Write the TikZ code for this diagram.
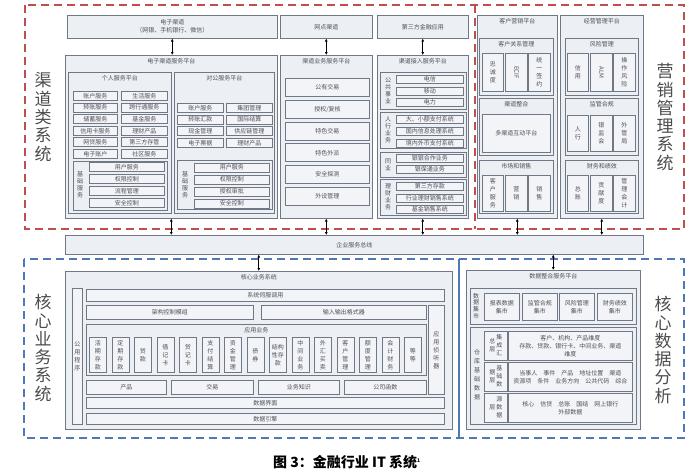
\documentclass[tikz,border=0pt]{standalone}
\usepackage{fontspec}
\setmainfont{Noto Sans CJK SC}
\usetikzlibrary{arrows.meta}

\definecolor{boxfill}{RGB}{236,239,244}
\definecolor{itemfill}{RGB}{242,244,248}
\definecolor{boxline}{RGB}{112,120,134}
\definecolor{redline}{RGB}{192,78,76}
\definecolor{blueline}{RGB}{79,120,182}
\definecolor{txt}{RGB}{78,80,88}

\newcommand{\vtxt}[1]{\begin{tabular}{@{}c@{}}#1\end{tabular}}

\tikzset{sz/.style 2 args={minimum width=#1pt,minimum height=#2pt}}
\tikzstyle{panel}=[draw=boxline,fill=boxfill,line width=0.5pt,anchor=north west,inner sep=0pt,text=txt]
\tikzstyle{item}=[draw=boxline,fill=itemfill,line width=0.9pt,anchor=north west,inner sep=0pt,align=center,text=txt]
\tikzstyle{lab}=[draw=boxline,fill=itemfill,line width=0.9pt,anchor=north west,inner sep=0pt,text=txt]
\tikzstyle{ttl}=[anchor=north,inner sep=0pt,yshift=-3.5pt,text=txt]
\tikzstyle{vtext}=[align=center,inner sep=0pt,text=txt]
\tikzstyle{biglabel}=[font=\fontsize{17}{18.3}\selectfont,align=center,text=black!70]
\tikzstyle{reddash}=[draw=redline,line width=1.3pt,dash pattern=on 8pt off 5pt]
\tikzstyle{bluedash}=[draw=blueline,line width=1.3pt,dash pattern=on 8pt off 5pt]
\tikzstyle{link}=[{Latex[length=3pt,width=3pt]}-{Latex[length=3pt,width=3pt]},line width=0.8pt]

\begin{document}
\begin{tikzpicture}[x=1pt,y=-1pt,font=\fontsize{6}{8}\selectfont,inner sep=0pt]
\useasboundingbox (0,0) rectangle (691,475);
% regions
\draw[reddash] (25,5) rectangle (684,229);
\draw[reddash] (475,5) -- (475,229);
\draw[bluedash] (24,259) rectangle (684,438);
\draw[blueline,line width=1.2pt] (459,259) -- (459,438);

\node[biglabel] (qdxt) at (43,117) {渠\\道\\类\\系\\统};
\node[biglabel] (yxxt) at (665,117) {营\\销\\管\\理\\系\\统};
\node[biglabel] (hxxt) at (43,348) {核\\心\\业\\务\\系\\统};
\node[biglabel] (sjfx) at (663,350) {核\\心\\数\\据\\分\\析};

% channels
\node[panel,sz={210}{23},align=center] (ech) at (67,15) {电子渠道\\（网银、手机银行、微信）};
\node[panel,sz={92}{23}] (wd) at (280,15) {网点渠道};
\node[panel,sz={91}{23}] (dsf) at (377,15) {第三方金融应用};

% e-channel platform
\node[panel,sz={212}{163},label={[ttl]north:电子渠道服务平台}] (ep) at (65,55) {};
\node[panel,sz={103}{141},label={[ttl]north:个人服务平台}] (grp) at (68,72) {};
\foreach \a/\b [count=\i from 0] in {账户服务/生活服务,转账服务/跨行通服务,储蓄服务/基金服务,信用卡服务/理财产品,网贷服务/第三方存管,电子账户/社区服务}{
  \node[item,sz={44}{9}] (gl\i) at (73,{91+11.6*\i}) {\a};
  \node[item,sz={46}{9}] (gr\i) at (121,{91+11.6*\i}) {\b};
}
\node[panel,sz={94}{49}] (jc1) at (73,161) {};
\node[vtext,font=\fontsize{6}{7}\selectfont] (jc1t) at (80,185) {基\\础\\服\\务};
\foreach \t [count=\i from 0] in {用户服务,权限控制,流程管理,安全控制}
  \node[item,sz={75}{9}] (ja\i) at (89,{162+12*\i}) {\t};

\node[panel,sz={100}{141},label={[ttl]north:对公服务平台}] (dg) at (174,72) {};
\foreach \a/\b [count=\i from 0] in {账户服务/集团管理,转账汇款/国际结算,现金管理/供应链管理,电子票据/理财产品}{
  \node[item,sz={46}{9}] (dl\i) at (177,{103+11.7*\i}) {\a};
  \node[item,sz={46}{9}] (dr\i) at (226,{103+11.7*\i}) {\b};
}
\node[panel,sz={95}{49}] (jc2) at (177,160) {};
\node[vtext,font=\fontsize{6}{7}\selectfont] (jc2t) at (185,185) {基\\础\\服\\务};
\foreach \t [count=\i from 0] in {用户服务,权限控制,授权审批,安全控制}
  \node[item,sz={75}{9}] (jb\i) at (194,{162.5+12*\i}) {\t};

% channel business platform
\node[panel,sz={92}{163},label={[ttl]north:渠道业务服务平台}] (yw) at (280,55) {};
\foreach \t [count=\i from 0] in {公有交易,{授权/复核},特色交易,特色外派,安全探测,外设管理}
  \node[item,sz={84}{18}] (yi\i) at (285,{78+21.8*\i}) {\t};

% channel access platform
\node[panel,sz={91}{163},label={[ttl]north:渠道接入服务平台}] (jr) at (377,55) {};
\node[panel,sz={86}{37}] (g1) at (380,72) {};
\node[vtext,font=\fontsize{6}{7}\selectfont] (g1t) at (388,90.5) {公\\共\\事\\业};
\node[item,sz={67}{8}] (g1a) at (396,75) {电信};
\node[item,sz={67}{8}] (g1b) at (396,87) {移动};
\node[item,sz={67}{8}] (g1c) at (396,98) {电力};
\node[panel,sz={86}{36}] (g2) at (380,112) {};
\node[vtext,font=\fontsize{6}{7}\selectfont] (g2t) at (388,130) {人\\行\\业\\务};
\node[item,sz={67}{8}] (g2a) at (396,115) {大、小额支付系统};
\node[item,sz={67}{8}] (g2b) at (396,127) {国内信息处理系统};
\node[item,sz={67}{8}] (g2c) at (396,138.5) {境内外币支付系统};
\node[panel,sz={86}{25}] (g3) at (380,152) {};
\node[vtext,font=\fontsize{6}{7}\selectfont] (g3t) at (388,164.5) {同\\业};
\node[item,sz={67}{8}] (g3a) at (396,153.5) {银银合作业务};
\node[item,sz={67}{8}] (g3b) at (396,165) {银保通业务};
\node[panel,sz={86}{36}] (g4) at (380,179) {};
\node[vtext,font=\fontsize{6}{7}\selectfont] (g4t) at (388,197) {理\\财\\业\\务};
\node[item,sz={67}{8}] (g4a) at (396,182) {第三方存款};
\node[item,sz={67}{8}] (g4b) at (396,193.5) {行业理财销售系统};
\node[item,sz={67}{8}] (g4c) at (396,205) {基金销售系统};

% marketing
\node[panel,sz={80}{203},label={[ttl]north:客户营销平台}] (kh) at (477,15) {};
\node[panel,sz={74}{57},label={[ttl]north:客户关系管理}] (crm) at (479,38) {};
\node[item,sz={21}{38}] (crma) at (482,53) {忠\\诚\\度};
\node[item,sz={22}{38}] (crmb) at (505,53) {\rotatebox{-90}{ECIF}};
\node[item,sz={22}{38}] (crmc) at (528,53) {统\\一\\签\\约};
\node[panel,sz={74}{57},label={[ttl]north:渠道整合}] (qd) at (479,98) {};
\node[item,sz={68}{38}] (qda) at (482,114) {多渠道互动平台};
\node[panel,sz={74}{53},label={[ttl]north:市场和销售}] (sc) at (479,160) {};
\node[item,sz={21}{36}] (sca) at (482,175) {客\\户\\服\\务};
\node[item,sz={22}{36}] (scb) at (505,175) {营\\销};
\node[item,sz={22}{36}] (scc) at (528,175) {销\\售};

\node[panel,sz={83}{203},label={[ttl]north:经营管理平台}] (jy) at (560,15) {};
\node[panel,sz={73}{57},label={[ttl]north:风险管理}] (fx) at (565,38) {};
\node[item,sz={21}{38}] (fxa) at (567,53) {信\\用};
\node[item,sz={22}{38}] (fxb) at (590,53) {\rotatebox{-90}{ALM}};
\node[item,sz={22}{38}] (fxc) at (613,53) {操\\作\\风\\险};
\node[panel,sz={73}{57},label={[ttl]north:监管合规}] (jg) at (565,98) {};
\node[item,sz={21}{36}] (jga) at (567,115) {人\\行};
\node[item,sz={22}{36}] (jgb) at (590,115) {银\\监\\会};
\node[item,sz={22}{36}] (jgc) at (613,115) {外\\管\\局};
\node[panel,sz={73}{53},label={[ttl]north:财务和绩效}] (cw) at (565,160) {};
\node[item,sz={21}{36}] (cwa) at (567,175) {总\\账};
\node[item,sz={22}{36}] (cwb) at (590,175) {贡\\献\\度};
\node[item,sz={22}{36}] (cwc) at (613,175) {管\\理\\会\\计};

% service bus
\node[panel,sz={578}{19}] (bus) at (65,235) {企业服务总线};

% core business
\node[panel,sz={387}{158},label={[ttl]north:核心业务系统}] (core) at (65,271) {};
\node[item,sz={10}{136}] (gy) at (72,288) {公\\用\\程\\序};
\node[item,sz={358}{12}] (xt) at (86,289) {系统伺服调用};
\node[item,sz={167}{14}] (jk) at (86,305) {架构控制模组};
\node[item,sz={165}{14}] (sr) at (261,305) {输入输出格式器};
\node[item,sz={16}{89}] (zt) at (428,305) {应\\用\\侦\\听\\器};
\node[panel,sz={340}{51},label={[ttl]north:应用业务}] (yy) at (86,324) {};
\foreach \t [count=\i from 0] in {{活\\期\\存\\款},{定\\期\\存\\款},{贷\\款},{借\\记\\卡},{贷\\记\\卡},{支\\付\\结\\算},{资\\金\\管\\理},{债\\券},{结构\\性存\\款},{中\\间\\业\\务},{外\\汇\\买\\卖},{客\\户\\管\\理},{额\\度\\管\\理},{会\\计\\财\\务},{等\\等}}
  \node[item,sz={17}{35}] (yyi\i) at ({89+22.5*\i},337) {\t};
\node[item,sz={80}{14}] (cp) at (86,380) {产品};
\node[item,sz={82}{14}] (jyi) at (171,380) {交易};
\node[item,sz={81}{14}] (ywzs) at (258,380) {业务知识};
\node[item,sz={82}{14}] (gshs) at (344,380) {公司函数};
\node[item,sz={358}{11}] (sjjm) at (86,397) {数据界面};
\node[item,sz={358}{11}] (sjyq) at (86,413) {数据引擎};

% data platform
\node[panel,sz={174}{159},label={[ttl]north:数据整合服务平台}] (data) at (466,270) {};
\node[panel,sz={166}{36}] (sj) at (470,288) {};
\node[vtext,font=\fontsize{6}{6.8}\selectfont] (sjt) at (476,306) {数\\据\\集\\市};
\node[item,sz={35}{27}] (sja) at (484,293) {报表数据\\集市};
\node[item,sz={35}{27}] (sjb) at (522,293) {监管合规\\集市};
\node[item,sz={35}{27}] (sjc) at (559,293) {风险管理\\集市};
\node[item,sz={35}{27}] (sjd) at (597,293) {财务绩效\\集市};
\node[panel,sz={166}{97}] (ck) at (470,327) {};
\node[vtext,font=\fontsize{6}{9}\selectfont] (ckt) at (477,375) {仓\\库\\基\\础\\数\\据};
\node[lab,sz={23}{29}] (cka) at (484,331) {\vtxt{总\\层}\,\vtxt{集\\成\\汇}};
\node[item,sz={124}{29}] (ckaa) at (508,331) {客户、机构、产品维度\\存款、贷款、银行卡、中间业务、渠道\\维度};
\node[lab,sz={23}{29}] (ckb) at (484,362) {\vtxt{据\\层}\,\vtxt{基\\础\\数}};
\node[item,sz={124}{29}] (ckbb) at (508,362) {当事人\quad 事件\quad 产品\quad 地址位置\quad 渠道\\资源项\quad 条件\quad 业务方向\quad 公共代码\quad 综合};
\node[lab,sz={23}{29}] (ckc) at (484,393) {\vtxt{层}\,\vtxt{源\\数\\据}};
\node[item,sz={124}{29}] (ckcc) at (508,393) {核心\quad 信贷\quad 总账\quad 国结\quad 网上银行\\外部数据};

% links
\draw[link] (ech.south) -- (ech.south |- ep.north);
\draw[link] (wd.south) -- (wd.south |- yw.north);
\draw[link] (dsf.south) -- (dsf.south |- jr.north);
\draw[link] (ep.south) -- (ep.south |- bus.north);
\draw[link] (yw.south) -- (yw.south |- bus.north);
\draw[link] (jr.south) -- (jr.south |- bus.north);
\draw[link] (kh.south) -- (kh.south |- bus.north);
\draw[link] (jy.south) -- (jy.south |- bus.north);
\draw[link] (core.north) -- (core.north |- bus.south);
\draw[link] (data.north) -- (data.north |- bus.south);

\node[font=\fontsize{14}{16}\selectfont\bfseries,text=black] (cap) at (347,462) {图 3：金融行业 IT 系统\textsuperscript{\tiny 1}};
\end{tikzpicture}
\end{document}
